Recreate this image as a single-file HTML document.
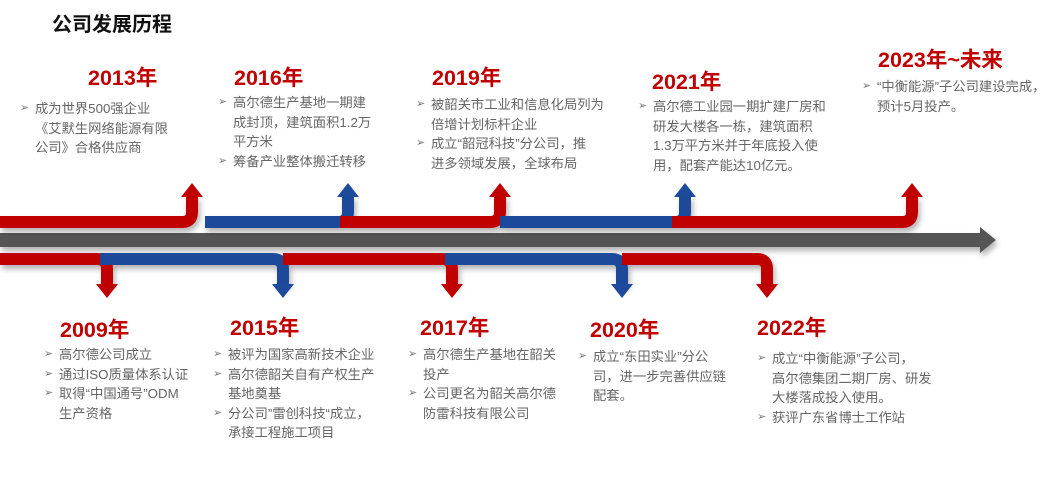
<!DOCTYPE html>
<html><head><meta charset="utf-8"><style>
body{margin:0;width:1064px;height:491px;background:#fff;position:relative;overflow:hidden;font-family:"Liberation Sans","Noto Sans CJK SC",sans-serif;}
.t{position:absolute;left:52px;top:8px;font-size:20px;font-weight:bold;color:#111;}
.y{position:absolute;font-size:21.5px;font-weight:bold;color:#c00000;line-height:24px;}
.b{position:absolute;font-size:13.3px;color:#666;white-space:nowrap;}
.b p{margin:0;height:19.5px;line-height:19.5px;padding-left:15px;position:relative;overflow:visible;}
.b p.s:before{content:"➢";position:absolute;left:0;top:0;font-size:11px;line-height:19.5px;color:#777;}
svg{position:absolute;left:0;top:0;}
</style></head><body>
<svg width="1064" height="491">
<defs><filter id="s" x="-5%" y="-50%" width="110%" height="200%"><feDropShadow dx="2" dy="4" stdDeviation="3" flood-color="#000" flood-opacity="0.3"/></filter></defs>
<g filter="url(#s)">
<rect x="0" y="233" width="983" height="14" fill="#555"/>
<polygon points="980,227 996,240 980,253" fill="#555"/>
</g>
<g filter="url(#s)" fill="none" stroke-width="12">
<path d="M0,222 H182 Q192,222 192,212 V196" stroke="#c00000"/>
<path d="M205,222 H338 Q348,222 348,212 V196" stroke="#1d4a9a"/>
<path d="M340,222 H490 Q500,222 500,212 V196" stroke="#c00000"/>
<path d="M500,222 H675 Q685,222 685,212 V196" stroke="#1d4a9a"/>
<path d="M672,222 H902 Q912,222 912,212 V196" stroke="#c00000"/>
<path d="M0,259 H97 Q107,259 107,269 V285" stroke="#c00000"/>
<path d="M100,259 H273 Q283,259 283,269 V285" stroke="#1d4a9a"/>
<path d="M283,259 H442 Q452,259 452,269 V285" stroke="#c00000"/>
<path d="M445,259 H612 Q622,259 622,269 V285" stroke="#1d4a9a"/>
<path d="M622,259 H757 Q767,259 767,269 V285" stroke="#c00000"/>
</g>
<g>
<polygon points="181,197 192,183 203,197" fill="#c00000"/>
<polygon points="337,197 348,183 359,197" fill="#1d4a9a"/>
<polygon points="489,197 500,183 511,197" fill="#c00000"/>
<polygon points="674,197 685,183 696,197" fill="#1d4a9a"/>
<polygon points="901,197 912,183 923,197" fill="#c00000"/>
<polygon points="96,284 107,298 118,284" fill="#c00000"/>
<polygon points="272,284 283,298 294,284" fill="#1d4a9a"/>
<polygon points="441,284 452,298 463,284" fill="#c00000"/>
<polygon points="611,284 622,298 633,284" fill="#1d4a9a"/>
<polygon points="756,284 767,298 778,284" fill="#c00000"/>
</g>
</svg>
<div class="t">公司发展历程</div>
<div class="y" style="left:88px;top:66px">2013年</div>
<div class="b" style="left:20px;top:99px"><p class="s">成为世界500强企业</p><p>《艾默生网络能源有限</p><p>公司》合格供应商</p></div>
<div class="y" style="left:234px;top:66px">2016年</div>
<div class="b" style="left:218px;top:93px"><p class="s">高尔德生产基地一期建</p><p>成封顶，建筑面积1.2万</p><p>平方米</p><p class="s">筹备产业整体搬迁转移</p></div>
<div class="y" style="left:432px;top:66px">2019年</div>
<div class="b" style="left:416px;top:95px"><p class="s">被韶关市工业和信息化局列为</p><p>倍增计划标杆企业</p><p class="s">成立“韶冠科技”分公司，推</p><p>进多领域发展，全球布局</p></div>
<div class="y" style="left:652px;top:70px">2021年</div>
<div class="b" style="left:638px;top:97px"><p class="s">高尔德工业园一期扩建厂房和</p><p>研发大楼各一栋，建筑面积</p><p>1.3万平方米并于年底投入使</p><p>用，配套产能达10亿元。</p></div>
<div class="y" style="left:878px;top:48px">2023年~未来</div>
<div class="b" style="left:862px;top:77px"><p class="s">“中衡能源”子公司建设完成，</p><p>预计5月投产。</p></div>
<div class="y" style="left:60px;top:318px">2009年</div>
<div class="b" style="left:44px;top:345px"><p class="s">高尔德公司成立</p><p class="s">通过ISO质量体系认证</p><p class="s">取得“中国通号”ODM</p><p>生产资格</p></div>
<div class="y" style="left:230px;top:316px">2015年</div>
<div class="b" style="left:213px;top:345px"><p class="s">被评为国家高新技术企业</p><p class="s">高尔德韶关自有产权生产</p><p>基地奠基</p><p class="s">分公司”雷创科技“成立，</p><p>承接工程施工项目</p></div>
<div class="y" style="left:420px;top:316px">2017年</div>
<div class="b" style="left:408px;top:345px"><p class="s">高尔德生产基地在韶关</p><p>投产</p><p class="s">公司更名为韶关高尔德</p><p>防雷科技有限公司</p></div>
<div class="y" style="left:590px;top:318px">2020年</div>
<div class="b" style="left:578px;top:347px"><p class="s">成立“东田实业”分公</p><p>司，进一步完善供应链</p><p>配套。</p></div>
<div class="y" style="left:757px;top:316px">2022年</div>
<div class="b" style="left:757px;top:349px"><p class="s">成立“中衡能源”子公司，</p><p>高尔德集团二期厂房、研发</p><p>大楼落成投入使用。</p><p class="s">获评广东省博士工作站</p></div>
</body></html>
